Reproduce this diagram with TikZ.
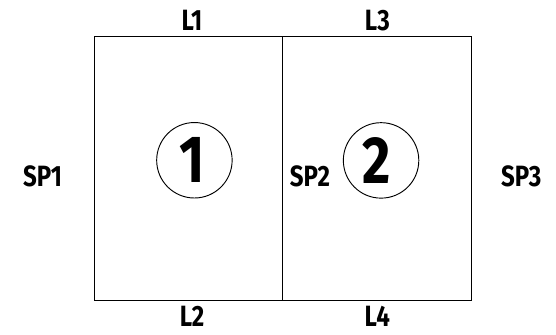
\documentclass[tikz,border=0pt]{standalone}
\usepackage{fontspec}
\setmainfont{Fira Sans}[FakeStretch=0.82]
\begin{document}
\begin{tikzpicture}[x=1pt,y=-1pt,
  lab/.style={inner sep=0pt,font=\fontsize{22}{22}\selectfont\bfseries},
  num/.style={draw,circle,minimum size=56.6pt,inner sep=0pt,line width=.7pt},
  digit/.style={inner sep=0pt,font=\fontsize{50}{50}\selectfont\bfseries},
  edge/.style={line width=.75pt}]
\useasboundingbox (0,0) rectangle (417,251.25);
\coordinate (a) at (70.5,27.5);
\coordinate (b) at (212,27.5);
\coordinate (c) at (353.8,27.5);
\coordinate (d) at (70.5,225.5);
\coordinate (e) at (212,225.5);
\coordinate (f) at (353.8,225.5);
\draw[edge] (a) -- (c) -- (f) -- (d) -- cycle;
\draw[edge] (b) -- (e);
\node[num] (n1) at (145.8,120.2) {};
\node[num] (n2) at (285.8,120.3) {};
\node[digit] (d1) at (144.5,120) {1};
\node[digit] (d2) at (282.8,120) {2};
\node[lab] (l1) at (144,15.3) {L1};
\node[lab] (l3) at (283,15.3) {L3};
\node[lab] (l2) at (144,237.5) {L2};
\node[lab] (l4) at (283,237.5) {L4};
\node[lab] (s1) at (32,132.3) {SP1};
\node[lab] (s2) at (232.5,132.3) {SP2};
\node[lab] (s3) at (391,132.3) {SP3};
\end{tikzpicture}
\end{document}
